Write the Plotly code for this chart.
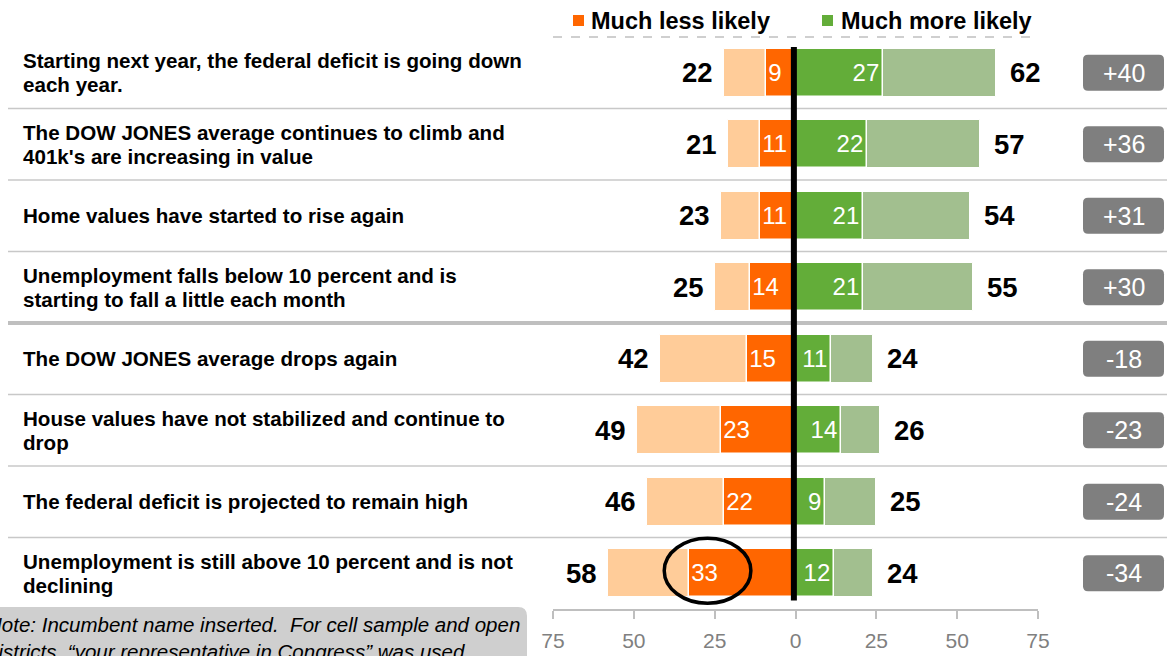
import plotly.graph_objects as go

# ---------------- data ----------------
labels = [
    "Starting next year, the federal deficit is going down<br>each year.",
    "The DOW JONES average continues to climb and<br>401k's are increasing in value",
    "Home values have started to rise again",
    "Unemployment falls below 10 percent and is<br>starting to fall a little each month",
    "The DOW JONES average drops again",
    "House values have not stabilized and continue to<br>drop",
    "The federal deficit is projected to remain high",
    "Unemployment is still above 10 percent and is not<br>declining",
]
less_total = [22, 21, 23, 25, 42, 49, 46, 58]
much_less = [9, 11, 11, 14, 15, 23, 22, 33]
much_more = [27, 22, 21, 21, 11, 14, 9, 12]
more_total = [62, 57, 54, 55, 24, 26, 25, 24]
net_labels = ["+40", "+36", "+31", "+30", "-18", "-23", "-24", "-34"]
tick_vals = [-75, -50, -25, 0, 25, 50, 75]
tick_text = ["75", "50", "25", "0", "25", "50", "75"]
legend_names = ["Much less likely", "Much more likely"]
note_text = ("Note: Incumbent name inserted.&nbsp; For cell sample and open<br>"
             "districts, \u201cyour representative in Congress\u201d was used.")
highlight_row = 7

# ---------------- style ----------------
W, H = 1167, 656
MT, MB = 37, 47
PH = H - MT - MB
FONT = "Liberation Sans, Arial, sans-serif"
C_LIGHT_OR = "#ffcc99"
C_DARK_OR = "#ff6600"
C_DARK_GR = "#63ad39"
C_LIGHT_GR = "#a2bf8f"
C_BADGE = "#7f7f7f"
C_SEP = "#c8c8c8"

def px_x(px):
    return px / W

def px_y(py):
    return (H - MB - py) / PH

rows = list(range(len(labels)))
neg = lambda v: [-a for a in v]

fig = go.Figure()
bar_w = 0.67
fig.add_trace(go.Bar(y=rows, x=neg(less_total), orientation="h", width=bar_w,
                     marker=dict(color=C_LIGHT_OR, line=dict(color="white", width=1)),
                     hoverinfo="skip", showlegend=False))
fig.add_trace(go.Bar(y=rows, x=more_total, orientation="h", width=bar_w,
                     marker=dict(color=C_LIGHT_GR, line=dict(color="white", width=1)),
                     hoverinfo="skip", showlegend=False))
fig.add_trace(go.Bar(y=rows, x=neg(much_less), orientation="h", width=bar_w,
                     marker=dict(color=C_DARK_OR, line=dict(color="white", width=1.5)),
                     text=[str(v) for v in much_less], textposition="inside",
                     insidetextanchor="end", constraintext="none",
                     textfont=dict(color="white", size=24, family=FONT),
                     hoverinfo="skip", showlegend=False))
fig.add_trace(go.Bar(y=rows, x=much_more, orientation="h", width=bar_w,
                     marker=dict(color=C_DARK_GR, line=dict(color="white", width=1.5)),
                     text=[str(v) for v in much_more], textposition="inside",
                     insidetextanchor="end", constraintext="none",
                     textfont=dict(color="white", size=24, family=FONT),
                     hoverinfo="skip", showlegend=False))

annotations = []
shapes = []

for i in rows:
    # outside totals
    annotations.append(dict(x=-less_total[i], y=i, xref="x", yref="y", text=str(less_total[i]),
                            showarrow=False, xanchor="right", xshift=-9,
                            font=dict(size=27.5, family=FONT, color="black", weight="bold")))
    annotations.append(dict(x=more_total[i], y=i, xref="x", yref="y", text=str(more_total[i]),
                            showarrow=False, xanchor="left", xshift=12,
                            font=dict(size=27.5, family=FONT, color="black", weight="bold")))
    # left labels (one annotation per line for tighter line spacing)
    lines = labels[i].split("<br>")
    n = len(lines)
    for k, line in enumerate(lines):
        shift = ((n - 1) / 2 - k) * 24
        annotations.append(dict(x=px_x(21), y=i, xref="paper", yref="y", text=line,
                                showarrow=False, xanchor="left", align="left", yshift=shift,
                                font=dict(size=20.6, family=FONT, color="black", weight="bold")))
    # badges
    bx0, bx1 = px_x(1083), px_x(1164)
    hh = 18 / 71.43
    rx, ry = 5 / W, 5 / 71.43
    y0, y1 = i - hh, i + hh
    path = (f"M {bx0+rx},{y0} L {bx1-rx},{y0} Q {bx1},{y0} {bx1},{y0+ry} "
            f"L {bx1},{y1-ry} Q {bx1},{y1} {bx1-rx},{y1} L {bx0+rx},{y1} "
            f"Q {bx0},{y1} {bx0},{y1-ry} L {bx0},{y0+ry} Q {bx0},{y0} {bx0+rx},{y0} Z")
    shapes.append(dict(type="path", path=path, xref="paper", yref="y",
                       fillcolor=C_BADGE, line=dict(width=0), layer="above"))
    annotations.append(dict(x=(bx0 + bx1) / 2, y=i, xref="paper", yref="y", text=net_labels[i],
                            showarrow=False, xanchor="center",
                            font=dict(size=25, family=FONT, color="white")))

# separators
for i in rows[:-1]:
    thick = (i == 3)
    shapes.append(dict(type="line", xref="paper", yref="y", x0=px_x(8), x1=1,
                       y0=i + 0.5, y1=i + 0.5,
                       line=dict(color="#bfbfbf" if thick else C_SEP, width=4 if thick else 1.5),
                       layer="below"))

# top dashed line
shapes.append(dict(type="line", xref="x", yref="paper", x0=-75, x1=75, y0=1, y1=1,
                   line=dict(color="#c0c0c0", width=1.5, dash="dash"), layer="below"))

# center black line
shapes.append(dict(type="line", xref="x", yref="y", x0=-0.5, x1=-0.5, y0=-0.36, y1=7.38,
                   line=dict(color="black", width=6), layer="above"))

# highlight ellipse around the 33
shapes.append(dict(type="circle", xref="x", yref="y",
                   x0=-40.6, x1=-13.8, y0=highlight_row - 0.49, y1=highlight_row + 0.42,
                   line=dict(color="black", width=3.5), layer="above"))

# note box
nx0, nx1 = px_x(-20), px_x(527)
ny0, ny1 = px_y(680), px_y(607)
nrx, nry = 9 / W, 9 / PH
npath = (f"M {nx0},{ny0} L {nx1},{ny0} L {nx1},{ny1-nry} Q {nx1},{ny1} {nx1-nrx},{ny1} "
         f"L {nx0},{ny1} Z")
shapes.append(dict(type="path", path=npath, xref="paper", yref="paper",
                   fillcolor="#cfcfcf", line=dict(width=0), layer="above"))
annotations.append(dict(x=px_x(522), y=px_y(611), xref="paper", yref="paper", text=note_text,
                        showarrow=False, xanchor="right", yanchor="top", align="left",
                        font=dict(size=20.5, family=FONT, color="black", style="italic")))

# legend
for (sx, tx, col, name) in [(573, 589, C_DARK_OR, legend_names[0]),
                            (822, 839, C_DARK_GR, legend_names[1])]:
    shapes.append(dict(type="rect", xref="paper", yref="paper",
                       x0=px_x(sx), x1=px_x(sx + 11), y0=px_y(26), y1=px_y(15),
                       fillcolor=col, line=dict(width=0)))
    annotations.append(dict(x=px_x(tx), y=px_y(21), xref="paper", yref="paper", text=name,
                            showarrow=False, xanchor="left", yanchor="middle",
                            font=dict(size=23.5, family=FONT, color="black", weight="bold")))

fig.update_layout(
    width=W, height=H,
    margin=dict(l=0, r=0, t=MT, b=MB, autoexpand=False),
    barmode="overlay",
    bargap=0,
    plot_bgcolor="white", paper_bgcolor="white",
    xaxis=dict(domain=[px_x(553), px_x(1038)], range=[-75, 75],
               tickvals=tick_vals, ticktext=tick_text, automargin=False,
               showgrid=False, zeroline=False, showline=True, linecolor="#bfbfbf", linewidth=1.5,
               ticks="outside", ticklen=8, tickcolor="#bfbfbf", tickwidth=1.5,
               tickfont=dict(size=21, family=FONT, color="#808080"),
               ticklabelstandoff=4, fixedrange=True),
    yaxis=dict(range=[7.5, -0.5], visible=False, fixedrange=True, automargin=False),
    shapes=shapes,
    annotations=annotations,
    showlegend=False,
)

fig.write_html("out.html", config={"displayModeBar": False},
               post_script="document.body.style.margin='0';document.body.style.overflow='hidden';")
